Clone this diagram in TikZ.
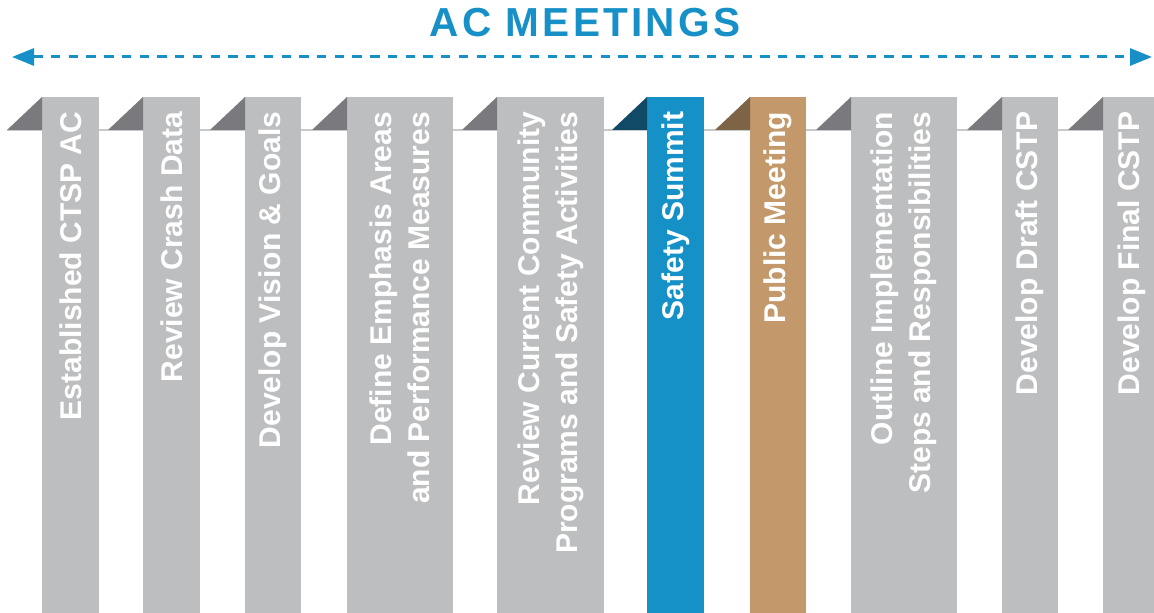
\documentclass[tikz,border=0pt]{standalone}
\usepackage{fontspec}
\setmainfont{Liberation Sans}
\usepackage{xcolor}
\usepackage{tikz}
\usetikzlibrary{arrows.meta}

\definecolor{acblue}{HTML}{1790C8}
\definecolor{barg}{HTML}{BDBEC0}
\definecolor{foldg}{HTML}{7A797E}
\definecolor{barb}{HTML}{1591C8}
\definecolor{foldb}{HTML}{114A66}
\definecolor{bart}{HTML}{C3996B}
\definecolor{foldt}{HTML}{7E6446}
\definecolor{rule}{HTML}{C8C9CB}

\tikzset{
	bar/.style={inner sep=0pt, outer sep=0pt, anchor=south west, minimum height=387pt},
	lbl/.style={inner sep=0pt, rotate=90, anchor=east, align=right, text=white,
		font=\fontsize{22.5}{28.5}\selectfont\bfseries},
	title/.style={inner sep=0pt, anchor=base, text=acblue,
		font=\fontsize{30.4}{36}\selectfont\bfseries\addfontfeatures{LetterSpace=8}},
}

\begin{document}
\begin{tikzpicture}[x=0.75pt,y=0.75pt]
		\clip (0,0) rectangle (1154,613);
		\fill[white] (0,0) rectangle (1154,613);
		
		\node[title] (ttl) at (585,576) {AC MEETINGS};
		\coordinate (al) at (12,556);
		\coordinate (ar) at (1152,556);
		\draw[acblue, line width=2.25pt, dash pattern=on 7pt off 6.3pt,
			{Triangle[length=16.5pt,width=12.75pt]}-{Triangle[length=16.5pt,width=12.75pt]}] (al) -- (ar);
		
		\coordinate (rl) at (7,483);
		\coordinate (rr) at (1154,483);
		\draw[rule, line width=1.5pt] (rl) -- (rr);
		
		\foreach \l/\w/\fillc/\foldc/\txt [count=\i] in {
			42/57/barg/foldg/{Established CTSP AC},
			143/57/barg/foldg/{Review Crash Data},
			245/56/barg/foldg/{Develop Vision \& Goals},
			347/106/barg/foldg/{Define Emphasis Areas\\and Performance Measures},
			497/107/barg/foldg/{Review Current Community\\Programs and Safety Activities},
			647/57/barb/foldb/{Safety Summit},
			750/56/bart/foldt/{Public Meeting},
			851/106/barg/foldg/{Outline Implementation\\Steps and Responsibilities},
			1002/56/barg/foldg/{Develop Draft CSTP},
			1103/57/barg/foldg/{Develop Final CSTP}}{
			\node[bar, fill=\fillc, minimum width=\w*0.75pt] (bar\i) at (\l,0) {};
			\fill[\foldc] (bar\i.north west) -- ++(0,-33) -- ++(-35,0) -- cycle;
			\node[lbl] (txt\i) at ([yshift=-11pt]bar\i.north) {\txt};
		}
	\end{tikzpicture}
\end{document}
